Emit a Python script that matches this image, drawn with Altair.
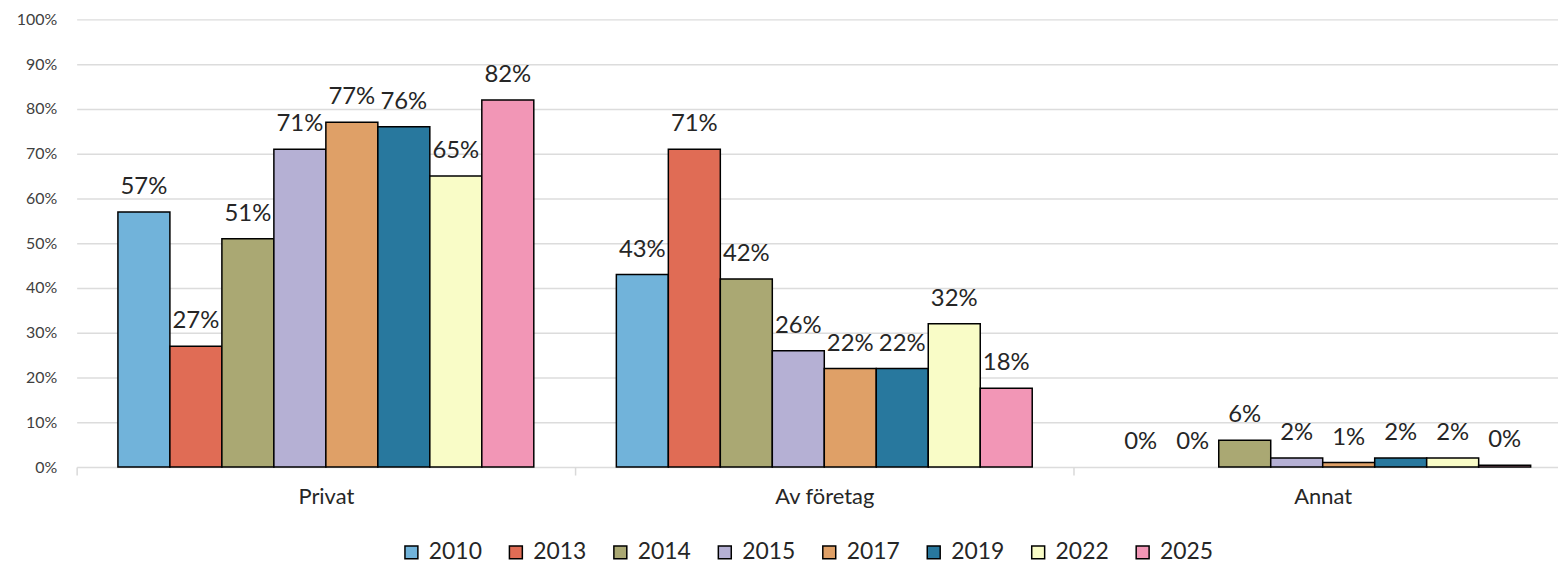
import altair as alt
import pandas as pd

FONT = "Lato"

categories = ["Privat", "Av företag", "Annat"]
years = ["2010", "2013", "2014", "2015", "2017", "2019", "2022", "2025"]
colors = ["#71B3DA", "#E06C55", "#AAA873", "#B5B0D4", "#DFA067", "#28789E", "#F9FCC7", "#F296B6"]

privat = [0.57, 0.27, 0.51, 0.71, 0.77, 0.76, 0.65, 0.82]
av_foretag = [0.43, 0.71, 0.42, 0.26, 0.22, 0.22, 0.32, 0.176]
annat = [0.0, 0.0, 0.06, 0.02, 0.01, 0.02, 0.02, 0.004]

rows = []
for cat, vals in zip(categories, [privat, av_foretag, annat]):
    for y, v in zip(years, vals):
        rows.append({"cat": cat, "year": y, "value": v})
df = pd.DataFrame(rows)

x_enc = alt.X(
    "cat:N",
    sort=categories,
    scale=alt.Scale(range=[0, 1503], paddingInner=0, paddingOuter=0),
    axis=alt.Axis(
        title=None, labelAngle=0, domain=False, tickBand="extent", tickSize=8,
        tickColor="#D9D9D9", tickWidth=1.5, labelFontSize=22, labelPadding=12,
        labelFont=FONT, labelColor="#262626", labelBaseline="top",
    ),
)
xoff_enc = alt.XOffset("year:N", sort=years, scale=alt.Scale(paddingInner=0, paddingOuter=0.794))
y_enc = alt.Y(
    "value:Q",
    scale=alt.Scale(domain=[0, 1]),
    axis=alt.Axis(
        title=None, format=".0%", values=[i / 10 for i in range(11)], domain=False,
        ticks=False, grid=True, gridColor="#DCDCDC", gridWidth=1.5, labelFontSize=16,
        labelFont=FONT, labelColor="#404040", labelPadding=20,
    ),
)

base = alt.Chart(df)
bars = base.mark_bar(stroke="black", strokeWidth=1.5).encode(
    x=x_enc,
    xOffset=xoff_enc,
    y=y_enc,
    strokeOpacity=alt.condition("datum.value == 0", alt.value(0), alt.value(1)),
    color=alt.Color(
        "year:N",
        sort=years,
        scale=alt.Scale(domain=years, range=colors),
        legend=alt.Legend(
            title=None, orient="none", direction="horizontal", legendX=325, legendY=524,
            symbolType="square", symbolSize=169, symbolStrokeColor="black",
            symbolStrokeWidth=1.5, symbolOpacity=1, labelFontSize=23, labelFont=FONT,
            labelColor="#262626", labelOffset=6, columnPadding=22, padding=0,
        ),
    ),
)
labels = base.mark_text(dy=-18, baseline="alphabetic", fontSize=24, font=FONT, color="#262626").encode(
    x=x_enc,
    xOffset=xoff_enc,
    y=alt.Y("value:Q"),
    text=alt.Text("value:Q", format=".0%"),
)

chart = alt.layer(bars, labels).properties(
    width=1489,
    height=450,
    autosize=alt.AutoSizeParams(type="none"),
    padding={"left": 69, "top": 10, "right": 0, "bottom": 96},
).configure_view(stroke=None)

chart.save("out.html", embed_options={"renderer": "svg", "actions": False})
